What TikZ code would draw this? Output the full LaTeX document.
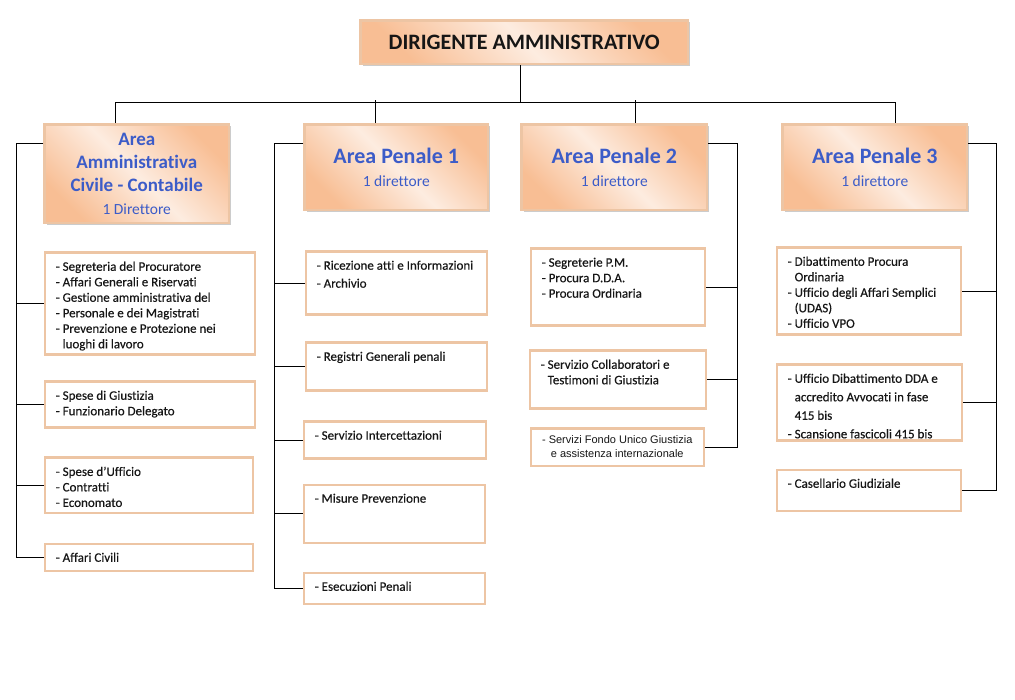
\documentclass[tikz,border=0pt]{standalone}
\usepackage{fontspec}
\setmainfont{Carlito}[Ligatures=NoCommon]
\newfontfamily\subfont{Carlito}[Ligatures=NoCommon, FakeBold=0.35]
\newfontfamily\arialfont{Liberation Sans}
\usepackage{tikz}
\usetikzlibrary{positioning, calc, shadows}
\definecolor{peachline}{RGB}{237,197,164}
\definecolor{peachdark}{RGB}{248,190,148}
\definecolor{peachlight}{RGB}{253,236,224}
\definecolor{areablue}{RGB}{60,92,200}
\definecolor{inkgray}{RGB}{22,22,22}
\newcommand{\voci}[3]{\parbox[t][#2pt][t]{#1pt}{\raggedright #3}}
\newcommand{\ttl}[1]{{\bfseries\fontsize{19}{23}\selectfont #1}}

\begin{document}
\begin{tikzpicture}[x=1pt, y=-1pt,
    head/.style={rectangle, draw=peachline, line width=2.5pt, top color=peachdark, bottom color=peachdark, middle color=peachlight, shading angle=-45, drop shadow={shadow xshift=2pt, shadow yshift=-2pt, fill=black!50, opacity=0.4}, anchor=north west, inner sep=0pt},
    area/.style={head, text=areablue, align=center, font=\fontsize{15.5}{23}\selectfont},
    sub/.style={rectangle, draw=peachline, line width=2.5pt, fill=white, anchor=north west, inner xsep=11pt, inner ysep=9pt, text=inkgray, font=\subfont\fontsize{13}{15.5}\selectfont},
    link/.style={draw=black, line width=0.8pt}
]
    \useasboundingbox[fill=white] (0,0) rectangle (1015,700);

    \node[head, minimum width=327.5pt, minimum height=43.5pt, font=\bfseries\fontsize{22}{24}\selectfont, text=inkgray] (dir) at (359.25,19.25) {DIRIGENTE AMMINISTRATIVO};

    \node[area, minimum width=184.5pt, minimum height=98.5pt] (a1) at (43.25,123.25) {\ttl{Area}\\\ttl{Amministrativa}\\\ttl{Civile - Contabile}\\1 Direttore};
    \node[area, minimum width=183.5pt, minimum height=85.5pt] (ap1) at (303.25,123.25) {{\bfseries\fontsize{22}{23}\selectfont Area Penale 1}\\1 direttore};
    \node[area, minimum width=185.5pt, minimum height=85.5pt] (ap2) at (520.25,123.25) {{\bfseries\fontsize{22}{23}\selectfont Area Penale 2}\\1 direttore};
    \node[area, minimum width=184.5pt, minimum height=85.5pt] (ap3) at (781.25,123.25) {{\bfseries\fontsize{22}{23}\selectfont Area Penale 3}\\1 direttore};

    \node[sub] (s1) at (43.5,251.5) {\voci{188}{84}{- Segreteria del Procuratore\\- Affari Generali e Riservati\\- Gestione amministrativa del\\- Personale e dei Magistrati\\- Prevenzione e Protezione nei\\\phantom{- }luoghi di lavoro}};
    \node[sub] (s2) at (43.5,380.5) {\voci{188}{28}{- Spese di Giustizia\\- Funzionario Delegato}};
    \node[sub] (s3) at (43.5,456.5) {\voci{186}{37}{- Spese d’Ufficio\\- Contratti\\- Economato}};
    \node[sub] (s4) at (43.5,542.5) {\voci{186}{9}{- Affari Civili}};

    \node[sub, font=\subfont\fontsize{13}{18}\selectfont] (p1) at (304.5,250.5) {\voci{159}{45}{- Ricezione atti e Informazioni\\- Archivio}};
    \node[sub] (p2) at (304.5,341.5) {\voci{159}{30}{- Registri Generali penali}};
    \node[sub] (p3) at (302.5,420.5) {\voci{160}{19}{- Servizio Intercettazioni}};
    \node[sub] (p4) at (302.5,483.5) {\voci{159}{40}{- Misure Prevenzione}};
    \node[sub] (p5) at (302.5,571.5) {\voci{159}{13}{- Esecuzioni Penali}};

    \node[sub] (q1) at (529.5,247.5) {\voci{152}{59}{- Segreterie P.M.\\- Procura D.D.A.\\- Procura Ordinaria}};
    \node[sub] (q2) at (528.5,349.5) {\voci{154}{40}{- Servizio Collaboratori e\\\phantom{- }Testimoni di Giustizia}};
    \node[sub, inner xsep=3pt, inner ysep=7pt, font=\arialfont\fontsize{11}{14}\selectfont] (q3) at (529.5,427.5) {\voci{167}{23}{\centering - Servizi Fondo Unico Giustizia\\e assistenza internazionale}};

    \node[sub] (r1) at (775.5,246.5) {\voci{162}{69}{- Dibattimento Procura\\\phantom{- }Ordinaria\\- Ufficio degli Affari Semplici\\\phantom{- }(UDAS)\\- Ufficio VPO}};
    \node[sub, font=\subfont\fontsize{13}{18.5}\selectfont] (r2) at (775.5,363.5) {\voci{163}{58}{- Ufficio Dibattimento DDA e\\\phantom{- }accredito Avvocati in fase\\\phantom{- }415 bis\\- Scansione fascicoli 415 bis}};
    \node[sub] (r3) at (775.5,468.5) {\voci{162}{23}{- Casellario Giudiziale}};

    \draw[link] ([xshift=-4pt]dir.south) -- ++(0,37) coordinate (bus);
    \draw[link] ([xshift=-21.5pt]a1.north) |- (bus) -| ([xshift=20.5pt]ap3.north);
    \draw[link] ([xshift=-21pt]ap1.north) -- ++(0,-23);
    \draw[link] ([xshift=21pt]ap2.north) -- ++(0,-23);

    \draw[link] ([yshift=-20pt]a1.north west) -- ++(-27,0) coordinate (ka) |- (s4.west);
    \foreach \s in {s1,s2,s3}
        \draw[link] (\s.west) -- (\s.west -| ka);

    \draw[link] ([yshift=-20pt]ap1.north west) -- ++(-29,0) coordinate (kb) |- (p5.west);
    \foreach \s in {p1,p2,p3,p4}
        \draw[link] (\s.west) -- (\s.west -| kb);

    \draw[link] ([yshift=-20pt]ap2.north east) -- ++(29,0) coordinate (kc) |- (q3.east);
    \foreach \s in {q1,q2}
        \draw[link] (\s.east) -- (\s.east -| kc);

    \draw[link] ([yshift=-20pt]ap3.north east) -- ++(28,0) coordinate (kd) |- (r3.east);
    \foreach \s in {r1,r2}
        \draw[link] (\s.east) -- (\s.east -| kd);

\end{tikzpicture}
\end{document}
